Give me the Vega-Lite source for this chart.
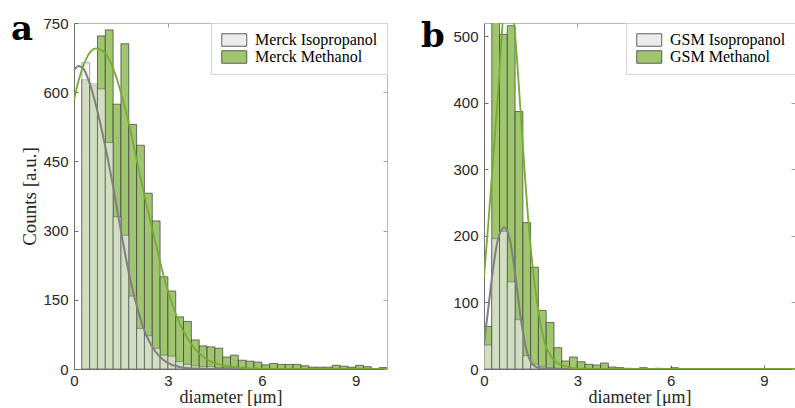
{
  "$schema": "https://vega.github.io/schema/vega-lite/v6.json",
  "padding": {"left": 11, "top": 13, "right": 0, "bottom": 0},
  "bounds": "flush",
  "spacing": 97,
  "datasets": {
    "a_hist": [
      {"s": "Merck Methanol", "x0": 0.25, "x1": 0.5, "n": 627},
      {"s": "Merck Methanol", "x0": 0.5, "x1": 0.75, "n": 614},
      {"s": "Merck Methanol", "x0": 0.75, "x1": 1.0, "n": 722},
      {"s": "Merck Methanol", "x0": 1.0, "x1": 1.25, "n": 735},
      {"s": "Merck Methanol", "x0": 1.25, "x1": 1.5, "n": 574},
      {"s": "Merck Methanol", "x0": 1.5, "x1": 1.75, "n": 705},
      {"s": "Merck Methanol", "x0": 1.75, "x1": 2.0, "n": 530},
      {"s": "Merck Methanol", "x0": 2.0, "x1": 2.25, "n": 485},
      {"s": "Merck Methanol", "x0": 2.25, "x1": 2.5, "n": 381},
      {"s": "Merck Methanol", "x0": 2.5, "x1": 2.75, "n": 321},
      {"s": "Merck Methanol", "x0": 2.75, "x1": 3.0, "n": 200},
      {"s": "Merck Methanol", "x0": 3.0, "x1": 3.25, "n": 169},
      {"s": "Merck Methanol", "x0": 3.25, "x1": 3.5, "n": 113},
      {"s": "Merck Methanol", "x0": 3.5, "x1": 3.75, "n": 103},
      {"s": "Merck Methanol", "x0": 3.75, "x1": 4.0, "n": 63},
      {"s": "Merck Methanol", "x0": 4.0, "x1": 4.25, "n": 50},
      {"s": "Merck Methanol", "x0": 4.25, "x1": 4.5, "n": 48},
      {"s": "Merck Methanol", "x0": 4.5, "x1": 4.75, "n": 45},
      {"s": "Merck Methanol", "x0": 4.75, "x1": 5.0, "n": 26},
      {"s": "Merck Methanol", "x0": 5.0, "x1": 5.25, "n": 30},
      {"s": "Merck Methanol", "x0": 5.25, "x1": 5.5, "n": 19},
      {"s": "Merck Methanol", "x0": 5.5, "x1": 5.75, "n": 17},
      {"s": "Merck Methanol", "x0": 5.75, "x1": 6.0, "n": 15},
      {"s": "Merck Methanol", "x0": 6.0, "x1": 6.25, "n": 9},
      {"s": "Merck Methanol", "x0": 6.25, "x1": 6.5, "n": 12},
      {"s": "Merck Methanol", "x0": 6.5, "x1": 6.75, "n": 10},
      {"s": "Merck Methanol", "x0": 6.75, "x1": 7.0, "n": 10},
      {"s": "Merck Methanol", "x0": 7.0, "x1": 7.25, "n": 10},
      {"s": "Merck Methanol", "x0": 7.25, "x1": 7.5, "n": 7},
      {"s": "Merck Methanol", "x0": 7.5, "x1": 7.75, "n": 4},
      {"s": "Merck Methanol", "x0": 7.75, "x1": 8.0, "n": 4},
      {"s": "Merck Methanol", "x0": 8.0, "x1": 8.25, "n": 4},
      {"s": "Merck Methanol", "x0": 8.25, "x1": 8.5, "n": 8},
      {"s": "Merck Methanol", "x0": 8.5, "x1": 8.75, "n": 6},
      {"s": "Merck Methanol", "x0": 8.75, "x1": 9.0, "n": 4},
      {"s": "Merck Methanol", "x0": 9.0, "x1": 9.25, "n": 8},
      {"s": "Merck Methanol", "x0": 9.25, "x1": 9.5, "n": 5},
      {"s": "Merck Methanol", "x0": 9.5, "x1": 9.75, "n": 1},
      {"s": "Merck Methanol", "x0": 9.75, "x1": 10.0, "n": 3},
      {"s": "Merck Isopropanol", "x0": 0.25, "x1": 0.5, "n": 664},
      {"s": "Merck Isopropanol", "x0": 0.5, "x1": 0.75, "n": 618},
      {"s": "Merck Isopropanol", "x0": 0.75, "x1": 1.0, "n": 607},
      {"s": "Merck Isopropanol", "x0": 1.0, "x1": 1.25, "n": 491},
      {"s": "Merck Isopropanol", "x0": 1.25, "x1": 1.5, "n": 330},
      {"s": "Merck Isopropanol", "x0": 1.5, "x1": 1.75, "n": 290},
      {"s": "Merck Isopropanol", "x0": 1.75, "x1": 2.0, "n": 158},
      {"s": "Merck Isopropanol", "x0": 2.0, "x1": 2.25, "n": 88},
      {"s": "Merck Isopropanol", "x0": 2.25, "x1": 2.5, "n": 72},
      {"s": "Merck Isopropanol", "x0": 2.5, "x1": 2.75, "n": 45},
      {"s": "Merck Isopropanol", "x0": 2.75, "x1": 3.0, "n": 30},
      {"s": "Merck Isopropanol", "x0": 3.0, "x1": 3.25, "n": 28},
      {"s": "Merck Isopropanol", "x0": 3.25, "x1": 3.5, "n": 16},
      {"s": "Merck Isopropanol", "x0": 3.5, "x1": 3.75, "n": 10},
      {"s": "Merck Isopropanol", "x0": 3.75, "x1": 4.0, "n": 7},
      {"s": "Merck Isopropanol", "x0": 4.0, "x1": 4.25, "n": 5},
      {"s": "Merck Isopropanol", "x0": 4.25, "x1": 4.5, "n": 5},
      {"s": "Merck Isopropanol", "x0": 4.5, "x1": 4.75, "n": 3},
      {"s": "Merck Isopropanol", "x0": 4.75, "x1": 5.0, "n": 3},
      {"s": "Merck Isopropanol", "x0": 5.0, "x1": 5.25, "n": 3},
      {"s": "Merck Isopropanol", "x0": 5.25, "x1": 5.5, "n": 2},
      {"s": "Merck Isopropanol", "x0": 5.5, "x1": 5.75, "n": 1},
      {"s": "Merck Isopropanol", "x0": 5.75, "x1": 6.0, "n": 1},
      {"s": "Merck Isopropanol", "x0": 6.0, "x1": 6.25, "n": 1}
    ],
    "a_fit": [
      {"s": "iso", "x": 0, "n": 648},
      {"s": "iso", "x": 0.15, "n": 657},
      {"s": "iso", "x": 0.31, "n": 650},
      {"s": "iso", "x": 0.47, "n": 625},
      {"s": "iso", "x": 0.74, "n": 561},
      {"s": "iso", "x": 1.0, "n": 482},
      {"s": "iso", "x": 1.27, "n": 388},
      {"s": "iso", "x": 1.53, "n": 287},
      {"s": "iso", "x": 1.8, "n": 193},
      {"s": "iso", "x": 2.07, "n": 121},
      {"s": "iso", "x": 2.33, "n": 70},
      {"s": "iso", "x": 2.6, "n": 38},
      {"s": "iso", "x": 2.87, "n": 19},
      {"s": "iso", "x": 3.13, "n": 9},
      {"s": "iso", "x": 3.4, "n": 4},
      {"s": "iso", "x": 3.66, "n": 1.5},
      {"s": "iso", "x": 4.0, "n": 0.4},
      {"s": "iso", "x": 5.0, "n": 0},
      {"s": "iso", "x": 10.0, "n": 0},
      {"s": "meth", "x": 0, "n": 583},
      {"s": "meth", "x": 0.15, "n": 626},
      {"s": "meth", "x": 0.36, "n": 668},
      {"s": "meth", "x": 0.7, "n": 695},
      {"s": "meth", "x": 1.0, "n": 684},
      {"s": "meth", "x": 1.27, "n": 648},
      {"s": "meth", "x": 1.53, "n": 592},
      {"s": "meth", "x": 1.8, "n": 518},
      {"s": "meth", "x": 2.07, "n": 431},
      {"s": "meth", "x": 2.33, "n": 352},
      {"s": "meth", "x": 2.6, "n": 276},
      {"s": "meth", "x": 2.87, "n": 200},
      {"s": "meth", "x": 3.13, "n": 142},
      {"s": "meth", "x": 3.4, "n": 95},
      {"s": "meth", "x": 3.66, "n": 63},
      {"s": "meth", "x": 3.93, "n": 38},
      {"s": "meth", "x": 4.2, "n": 23},
      {"s": "meth", "x": 4.62, "n": 10},
      {"s": "meth", "x": 5.0, "n": 5},
      {"s": "meth", "x": 5.5, "n": 2},
      {"s": "meth", "x": 6.0, "n": 1},
      {"s": "meth", "x": 7.0, "n": 0.2},
      {"s": "meth", "x": 10.0, "n": 0}
    ],
    "b_hist": [
      {"s": "GSM Methanol", "x0": 0.0, "x1": 0.25, "n": 64},
      {"s": "GSM Methanol", "x0": 0.25, "x1": 0.5, "n": 560},
      {"s": "GSM Methanol", "x0": 0.5, "x1": 0.75, "n": 503},
      {"s": "GSM Methanol", "x0": 0.75, "x1": 1.0, "n": 516},
      {"s": "GSM Methanol", "x0": 1.0, "x1": 1.25, "n": 387},
      {"s": "GSM Methanol", "x0": 1.25, "x1": 1.5, "n": 220},
      {"s": "GSM Methanol", "x0": 1.5, "x1": 1.75, "n": 153},
      {"s": "GSM Methanol", "x0": 1.75, "x1": 2.0, "n": 88},
      {"s": "GSM Methanol", "x0": 2.0, "x1": 2.25, "n": 70},
      {"s": "GSM Methanol", "x0": 2.25, "x1": 2.5, "n": 32},
      {"s": "GSM Methanol", "x0": 2.5, "x1": 2.75, "n": 12},
      {"s": "GSM Methanol", "x0": 2.75, "x1": 3.0, "n": 18},
      {"s": "GSM Methanol", "x0": 3.0, "x1": 3.25, "n": 11},
      {"s": "GSM Methanol", "x0": 3.25, "x1": 3.5, "n": 7},
      {"s": "GSM Methanol", "x0": 3.5, "x1": 3.75, "n": 6},
      {"s": "GSM Methanol", "x0": 3.75, "x1": 4.0, "n": 9},
      {"s": "GSM Methanol", "x0": 4.0, "x1": 4.25, "n": 3},
      {"s": "GSM Methanol", "x0": 4.25, "x1": 4.5, "n": 2},
      {"s": "GSM Methanol", "x0": 4.5, "x1": 4.75, "n": 1},
      {"s": "GSM Methanol", "x0": 5.0, "x1": 5.25, "n": 2},
      {"s": "GSM Methanol", "x0": 5.5, "x1": 5.75, "n": 1},
      {"s": "GSM Methanol", "x0": 6.0, "x1": 6.25, "n": 2},
      {"s": "GSM Isopropanol", "x0": 0.0, "x1": 0.25, "n": 36},
      {"s": "GSM Isopropanol", "x0": 0.25, "x1": 0.5, "n": 196},
      {"s": "GSM Isopropanol", "x0": 0.5, "x1": 0.75, "n": 207},
      {"s": "GSM Isopropanol", "x0": 0.75, "x1": 1.0, "n": 131},
      {"s": "GSM Isopropanol", "x0": 1.0, "x1": 1.25, "n": 74},
      {"s": "GSM Isopropanol", "x0": 1.25, "x1": 1.5, "n": 20},
      {"s": "GSM Isopropanol", "x0": 1.5, "x1": 1.75, "n": 7},
      {"s": "GSM Isopropanol", "x0": 1.75, "x1": 2.0, "n": 4},
      {"s": "GSM Isopropanol", "x0": 2.0, "x1": 2.25, "n": 2},
      {"s": "GSM Isopropanol", "x0": 2.25, "x1": 2.5, "n": 1}
    ],
    "b_fit": [
      {"s": "iso", "x": 0, "n": 38},
      {"s": "iso", "x": 0.13, "n": 88},
      {"s": "iso", "x": 0.29, "n": 150},
      {"s": "iso", "x": 0.45, "n": 195},
      {"s": "iso", "x": 0.66, "n": 213},
      {"s": "iso", "x": 0.84, "n": 192},
      {"s": "iso", "x": 1.0, "n": 143},
      {"s": "iso", "x": 1.16, "n": 84},
      {"s": "iso", "x": 1.32, "n": 38},
      {"s": "iso", "x": 1.48, "n": 13},
      {"s": "iso", "x": 1.64, "n": 4},
      {"s": "iso", "x": 1.85, "n": 1},
      {"s": "iso", "x": 2.2, "n": 0},
      {"s": "iso", "x": 10.0, "n": 0},
      {"s": "meth", "x": 0, "n": 138},
      {"s": "meth", "x": 0.13, "n": 213},
      {"s": "meth", "x": 0.29, "n": 313},
      {"s": "meth", "x": 0.45, "n": 413},
      {"s": "meth", "x": 0.6, "n": 520},
      {"s": "meth", "x": 0.7, "n": 565},
      {"s": "meth", "x": 0.8, "n": 575},
      {"s": "meth", "x": 0.9, "n": 550},
      {"s": "meth", "x": 1.0, "n": 503},
      {"s": "meth", "x": 1.16, "n": 398},
      {"s": "meth", "x": 1.32, "n": 288},
      {"s": "meth", "x": 1.48, "n": 193},
      {"s": "meth", "x": 1.64, "n": 123},
      {"s": "meth", "x": 1.8, "n": 73},
      {"s": "meth", "x": 1.96, "n": 38},
      {"s": "meth", "x": 2.17, "n": 18},
      {"s": "meth", "x": 2.49, "n": 6},
      {"s": "meth", "x": 3.0, "n": 1},
      {"s": "meth", "x": 4.0, "n": 0},
      {"s": "meth", "x": 10.0, "n": 0}
    ]
  },
  "hconcat": [
    {
      "width": 313,
      "height": 346,
      "title": {"text": "a"},
      "layer": [
        {
          "data": {"name": "a_hist"},
          "transform": [{"filter": "datum.s === 'Merck Methanol'"}],
          "mark": {"type": "bar", "clip": true, "stroke": "#3a3a3a", "strokeWidth": 0.7},
          "encoding": {
            "x": {"field": "x0", "type": "quantitative", "scale": {"domain": [0, 10], "nice": false},
                  "axis": {"orient": "bottom", "values": [0, 3, 6, 9], "title": "diameter [μm]", "tickSize": -4, "labelPadding": 8, "titlePadding": 0, "titleFontSize": 18}},
            "x2": {"field": "x1"},
            "y": {"field": "n", "type": "quantitative", "scale": {"domain": [0, 750], "nice": false},
                  "axis": {"orient": "left", "values": [0, 150, 300, 450, 600, 750], "title": "Counts [a.u.]", "tickSize": -4, "labelPadding": 10, "titlePadding": 3}},
            "y2": {"datum": 0},
            "color": {"field": "s", "type": "nominal", "scale": {"domain": ["Merck Isopropanol", "Merck Methanol"], "range": ["#ececec", "#9fc66e"]}, "legend": {"title": null}}
          }
        },
        {
          "data": {"name": "a_hist"},
          "transform": [{"filter": "datum.s === 'Merck Isopropanol'"}],
          "mark": {"type": "bar", "clip": true, "fillOpacity": 0.65, "stroke": "#3a3a3a", "strokeOpacity": 0.6, "strokeWidth": 0.7},
          "encoding": {
            "x": {"field": "x0", "type": "quantitative", "axis": null},
            "x2": {"field": "x1"},
            "y": {"field": "n", "type": "quantitative", "axis": null},
            "y2": {"datum": 0},
            "color": {"field": "s", "type": "nominal", "legend": {"title": null}}
          }
        },
        {
          "data": {"name": "a_fit"},
          "transform": [{"filter": "datum.s === 'iso'"}],
          "mark": {"type": "line", "clip": true, "color": "#7f7f7f", "strokeWidth": 2, "interpolate": "monotone"},
          "encoding": {
            "x": {"field": "x", "type": "quantitative", "axis": null},
            "y": {"field": "n", "type": "quantitative", "axis": null}
          }
        },
        {
          "data": {"name": "a_fit"},
          "transform": [{"filter": "datum.s === 'meth'"}],
          "mark": {"type": "line", "clip": true, "color": "#77ac30", "strokeWidth": 1.8, "interpolate": "monotone"},
          "encoding": {
            "x": {"field": "x", "type": "quantitative",
                  "axis": {"orient": "top", "values": [0, 3, 6, 9], "labels": false, "title": null, "tickSize": -4, "domainColor": "#b8b8b8", "tickColor": "#9a9a9a"}},
            "y": {"field": "n", "type": "quantitative",
                  "axis": {"orient": "right", "values": [0, 150, 300, 450, 600, 750], "labels": false, "title": null, "tickSize": -4, "domainColor": "#b8b8b8", "tickColor": "#9a9a9a"}}
          }
        }
      ],
      "resolve": {"axis": {"x": "independent", "y": "independent"}}
    },
    {
      "width": 311,
      "height": 346,
      "title": {"text": "b"},
      "layer": [
        {
          "data": {"name": "b_hist"},
          "transform": [{"filter": "datum.s === 'GSM Methanol'"}],
          "mark": {"type": "bar", "clip": true, "stroke": "#3a3a3a", "strokeWidth": 0.7},
          "encoding": {
            "x": {"field": "x0", "type": "quantitative", "scale": {"domain": [0, 10], "nice": false},
                  "axis": {"orient": "bottom", "values": [0, 3, 6, 9], "title": "diameter [μm]", "tickSize": -4, "labelPadding": 8, "titlePadding": 0, "titleFontSize": 18}},
            "x2": {"field": "x1"},
            "y": {"field": "n", "type": "quantitative", "scale": {"domain": [0, 520], "nice": false},
                  "axis": {"orient": "left", "values": [0, 100, 200, 300, 400, 500], "title": null, "tickSize": -4, "labelPadding": 10}},
            "y2": {"datum": 0},
            "color": {"field": "s", "type": "nominal", "scale": {"domain": ["GSM Isopropanol", "GSM Methanol"], "range": ["#ececec", "#9fc66e"]}, "legend": {"title": null}}
          }
        },
        {
          "data": {"name": "b_hist"},
          "transform": [{"filter": "datum.s === 'GSM Isopropanol'"}],
          "mark": {"type": "bar", "clip": true, "fillOpacity": 0.65, "stroke": "#3a3a3a", "strokeOpacity": 0.6, "strokeWidth": 0.7},
          "encoding": {
            "x": {"field": "x0", "type": "quantitative", "axis": null},
            "x2": {"field": "x1"},
            "y": {"field": "n", "type": "quantitative", "axis": null},
            "y2": {"datum": 0},
            "color": {"field": "s", "type": "nominal", "legend": {"title": null}}
          }
        },
        {
          "data": {"name": "b_fit"},
          "transform": [{"filter": "datum.s === 'iso'"}],
          "mark": {"type": "line", "clip": true, "color": "#7f7f7f", "strokeWidth": 2, "interpolate": "monotone"},
          "encoding": {
            "x": {"field": "x", "type": "quantitative", "axis": null},
            "y": {"field": "n", "type": "quantitative", "axis": null}
          }
        },
        {
          "data": {"name": "b_fit"},
          "transform": [{"filter": "datum.s === 'meth'"}],
          "mark": {"type": "line", "clip": true, "color": "#77ac30", "strokeWidth": 1.8, "interpolate": "monotone"},
          "encoding": {
            "x": {"field": "x", "type": "quantitative",
                  "axis": {"orient": "top", "values": [0, 3, 6, 9], "labels": false, "title": null, "tickSize": -4, "domainColor": "#b8b8b8", "tickColor": "#9a9a9a"}},
            "y": {"field": "n", "type": "quantitative",
                  "axis": {"orient": "right", "values": [0, 100, 200, 300, 400, 500], "labels": false, "title": null, "tickSize": -4, "domainColor": "#b8b8b8", "tickColor": "#9a9a9a"}}
          }
        }
      ],
      "resolve": {"axis": {"x": "independent", "y": "independent"}}
    }
  ],
  "resolve": {"scale": {"color": "independent", "x": "independent", "y": "independent"}, "legend": {"color": "independent"}},
  "config": {
    "view": {"stroke": null},
    "axis": {
      "grid": false,
      "labelFont": "Liberation Sans",
      "labelFontSize": 15,
      "labelColor": "#262626",
      "labelFlush": false,
      "titleFont": "Liberation Serif",
      "titleFontSize": 19,
      "titleFontWeight": "normal",
      "titleColor": "#262626",
      "domainColor": "#6e6e6e",
      "tickColor": "#6e6e6e"
    },
    "legend": {
      "orient": "top-right",
      "offset": 0,
      "padding": 9,
      "strokeColor": "#d4d4d4",
      "fillColor": "white",
      "labelFont": "Liberation Serif",
      "labelFontSize": 16,
      "labelColor": "#000000",
      "labelLimit": 0,
      "symbolType": "M-1,-1H3V1H-1Z",
      "symbolSize": 156,
      "symbolStrokeColor": "#3a3a3a",
      "symbolStrokeWidth": 0.8,
      "symbolOpacity": 1,
      "labelOffset": 19,
      "rowPadding": 1
    },
    "title": {
      "font": "DejaVu Serif",
      "fontSize": 34,
      "fontWeight": "bold",
      "color": "#000000",
      "anchor": "start",
      "frame": "group",
      "baseline": "alphabetic",
      "offset": -31,
      "dx": -63
    }
  }
}
